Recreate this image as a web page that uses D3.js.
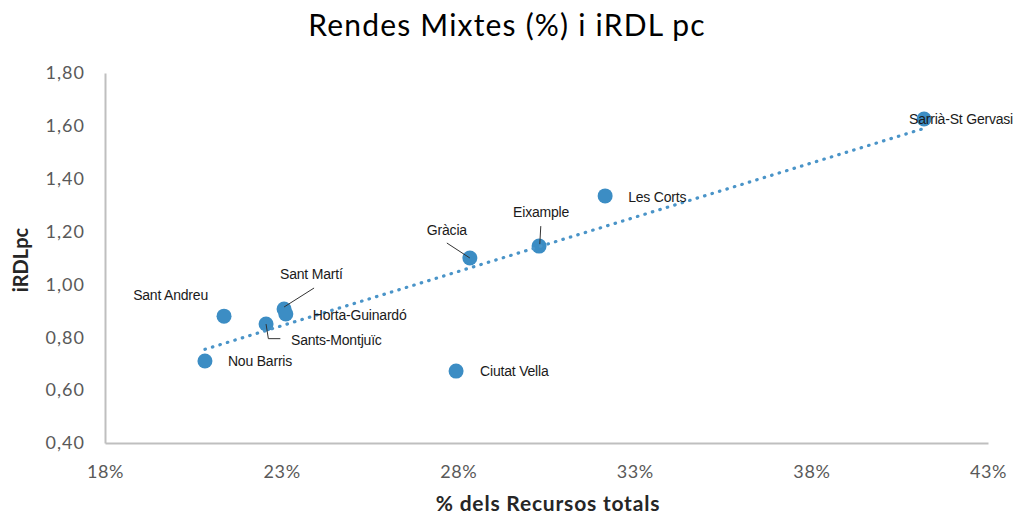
<!DOCTYPE html>
<html>
<head>
<meta charset="utf-8">
<script src="https://cdn.jsdelivr.net/npm/d3@7"></script>
<style>
  body { margin: 0; background: #fff; }
  svg text { font-family: Lato, "Open Sans", sans-serif; }
</style>
</head>
<body>
<svg id="chart" width="1028" height="520"></svg>
<script>
// districtes de Barcelona
var districts = ["Sarrià-St Gervasi", "Les Corts", "Eixample", "Gràcia", "Ciutat Vella",
                 "Sant Martí", "Horta-Guinardó", "Sants-Montjuïc", "Sant Andreu", "Nou Barris"];
// % dels recursos totals (rendes mixtes)
var recursos = [41.19, 32.16, 30.29, 28.33, 27.94, 23.07, 23.12, 22.56, 21.37, 20.83];
// iRDL per capita
var irdl = [1.626, 1.335, 1.145, 1.10, 0.672, 0.907, 0.888, 0.85, 0.88, 0.71];

var xTicks = [18, 23, 28, 33, 38, 43];
var yTicks = [0.4, 0.6, 0.8, 1.0, 1.2, 1.4, 1.6, 1.8];

// label placement (offsets from the point), and leader lines
var labelPos = [
  {dx: -15, dy: 5, anchor: "start"},
  {dx: 23, dy: 6, anchor: "start"},
  {dx: -26, dy: -29, anchor: "start", leader: [[1.7, -20], [0.7, -2]]},
  {dx: -43, dy: -23, anchor: "start", leader: [[-23, -15], [0, 0]]},
  {dx: 24, dy: 5, anchor: "start"},
  {dx: -4, dy: -30, anchor: "start", leader: [[30, -21], [0, -2]]},
  {dx: 27, dy: 6, anchor: "start"},
  {dx: 25, dy: 21, anchor: "start", leader: [[0, 0], [2.3, 14.6], [14.3, 14.6]]},
  {dx: -16, dy: -16, anchor: "end"},
  {dx: 23, dy: 5, anchor: "start"}
];

var svg = d3.select("#chart");
var plotLeft = 105, plotRight = 988, plotTop = 73, plotBottom = 443;

var x = d3.scaleLinear().domain([18, 43]).range([plotLeft, plotRight]);
var y = d3.scaleLinear().domain([0.4, 1.8]).range([plotBottom, plotTop]);

var loc = d3.formatLocale({decimal: ",", thousands: ".", grouping: [3], currency: ["", "€"]});
var fmtY = loc.format(".2f");

// title
svg.append("text")
   .attr("x", 507).attr("y", 36)
   .attr("text-anchor", "middle")
   .style("font-size", "30px")
   .style("letter-spacing", "1.2px")
   .style("fill", "#000")
   .text("Rendes Mixtes (%) i iRDL pc");

// axes
var xAxis = svg.append("g")
   .attr("transform", "translate(0," + plotBottom + ")")
   .call(d3.axisBottom(x).tickValues(xTicks).tickSize(0).tickPadding(22)
         .tickFormat(function(d) { return d + "%"; }));
var yAxis = svg.append("g")
   .attr("transform", "translate(" + plotLeft + ",0)")
   .call(d3.axisLeft(y).tickValues(yTicks).tickSize(0).tickPadding(20)
         .tickFormat(function(d) { return fmtY(d); }));

[xAxis, yAxis].forEach(function(g) {
  g.select(".domain").attr("stroke", "#bfbfbf").attr("stroke-width", 2);
  g.selectAll("text")
   .style("font-size", "18px")
   .style("fill", "#595959")
   .style("letter-spacing", "0.6px")
   .style("font-family", "Lato, sans-serif");
});
yAxis.selectAll("text").style("letter-spacing", "1px");

// axis titles
svg.append("text")
   .attr("x", 548).attr("y", 511)
   .attr("text-anchor", "middle")
   .style("font-size", "21px").style("font-weight", "bold")
   .style("letter-spacing", "0.8px")
   .style("fill", "#262626")
   .text("% dels Recursos totals");
svg.append("text")
   .attr("transform", "translate(28,260) rotate(-90)")
   .attr("text-anchor", "middle")
   .style("font-size", "20px").style("font-weight", "bold")
   .style("fill", "#262626")
   .text("iRDLpc");

var pts = districts.map(function(d, i) {
  return {name: d, x: recursos[i], y: irdl[i], lab: labelPos[i]};
});

// points
svg.append("g").selectAll("circle")
   .data(pts).enter().append("circle")
   .attr("cx", function(d) { return x(d.x); })
   .attr("cy", function(d) { return y(d.y); })
   .attr("r", 7.5)
   .style("fill", "#3c8dc4");

// linear trendline (least squares)
var mx = d3.mean(recursos), my = d3.mean(irdl);
var sxy = d3.sum(recursos, function(v, i) { return (v - mx) * (irdl[i] - my); });
var sxx = d3.sum(recursos, function(v) { return (v - mx) * (v - mx); });
var slope = sxy / sxx, icpt = my - slope * mx;
var ext = d3.extent(recursos);
svg.append("path")
   .datum(ext)
   .attr("d", d3.line()
         .x(function(v) { return x(v); })
         .y(function(v) { return y(icpt + slope * v); }))
   .style("fill", "none")
   .style("stroke", "#4a94c8")
   .style("stroke-width", 3.2)
   .style("stroke-linecap", "round")
   .style("stroke-dasharray", "0.5 7.3");

// leader lines
var lineGen = d3.line();
svg.append("g").selectAll("path")
   .data(pts.filter(function(d) { return d.lab.leader; }))
   .enter().append("path")
   .attr("d", function(d) {
     var px = x(d.x), py = y(d.y);
     return lineGen(d.lab.leader.map(function(p) { return [px + p[0], py + p[1]]; }));
   })
   .style("fill", "none")
   .style("stroke", "#333")
   .style("stroke-width", 1);

// labels
svg.append("g").selectAll("text")
   .data(pts).enter().append("text")
   .attr("x", function(d) { return x(d.x) + d.lab.dx; })
   .attr("y", function(d) { return y(d.y) + d.lab.dy; })
   .attr("text-anchor", function(d) { return d.lab.anchor; })
   .style("font-family", "'Liberation Sans', Arial, sans-serif")
   .style("font-size", "14px")
   .style("letter-spacing", "-0.2px")
   .style("fill", "#1a1a1a")
   .text(function(d) { return d.name; });
</script>
</body>
</html>
